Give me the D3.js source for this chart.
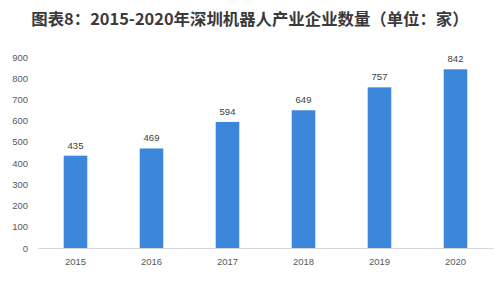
<!DOCTYPE html>
<html>
<head>
<meta charset="utf-8">
<script src="https://cdn.jsdelivr.net/npm/d3@7"></script>
<style>
  body { margin: 0; background: #fff; }
  svg { display: block; }
</style>
</head>
<body>
<svg id="chart" width="498" height="286"></svg>
<script>
// chart data
let years = ['2015', '2016', '2017', '2018', '2019', '2020']
let counts = [435, 469, 594, 649, 757, 842]
let yTicks = [0, 100, 200, 300, 400, 500, 600, 700, 800, 900]

let svg = d3.select('#chart')
let font = '"Noto Sans CJK SC", "DejaVu Sans", sans-serif'

// title
svg.append('text')
    .attr('x', 250)
    .attr('y', 25)
    .attr('text-anchor', 'middle')
    .attr('font-family', font)
    .attr('font-weight', 'bold')
    .attr('font-size', 16.4)
    .attr('fill', '#3a3a3a')
    .text('图表8：2015-2020年深圳机器人产业企业数量（单位：家）')

let x = d3.scaleBand().domain(years).range([37.5, 493.5])
    .paddingInner(0.69)
    .paddingOuter(0.345)
let y = d3.scaleLinear().domain([0, 900]).range([248, 57])

// y axis labels
svg.selectAll('.ylab')
    .data(yTicks)
    .enter()
    .append('text')
    .attr('class', 'ylab')
    .attr('x', 28)
    .attr('y', (d) => y(d) + 3.5)
    .attr('text-anchor', 'end')
    .attr('font-family', '"Liberation Sans", Arial, sans-serif')
    .attr('font-size', 9.5)
    .attr('fill', '#595959')
    .text((d) => d)

// bars
svg.selectAll('.bar')
    .data(counts)
    .enter()
    .append('rect')
    .attr('class', 'bar')
    .attr('x', (d, i) => x(years[i]))
    .attr('width', x.bandwidth())
    .attr('y', (d) => y(d))
    .attr('height', (d) => y(0) - y(d))
    .attr('fill', '#3c86dc')

// baseline
svg.append('line')
    .attr('x1', 38).attr('x2', 494)
    .attr('y1', y(0) + 0.5).attr('y2', y(0) + 0.5)
    .attr('stroke', '#d9d9d9')
    .attr('stroke-width', 1)

// value labels
svg.selectAll('.val')
    .data(counts)
    .enter()
    .append('text')
    .attr('class', 'val')
    .attr('x', (d, i) => x(years[i]) + x.bandwidth() / 2)
    .attr('y', (d) => y(d) - 7)
    .attr('text-anchor', 'middle')
    .attr('font-family', '"Liberation Sans", Arial, sans-serif')
    .attr('font-size', 9.5)
    .attr('fill', '#404040')
    .text((d) => d)

// x labels
svg.selectAll('.xlab')
    .data(years)
    .enter()
    .append('text')
    .attr('class', 'xlab')
    .attr('x', (d) => x(d) + x.bandwidth() / 2)
    .attr('y', 265)
    .attr('text-anchor', 'middle')
    .attr('font-family', '"Liberation Sans", Arial, sans-serif')
    .attr('font-size', 9.5)
    .attr('fill', '#595959')
    .text((d) => d)
</script>
</body>
</html>
